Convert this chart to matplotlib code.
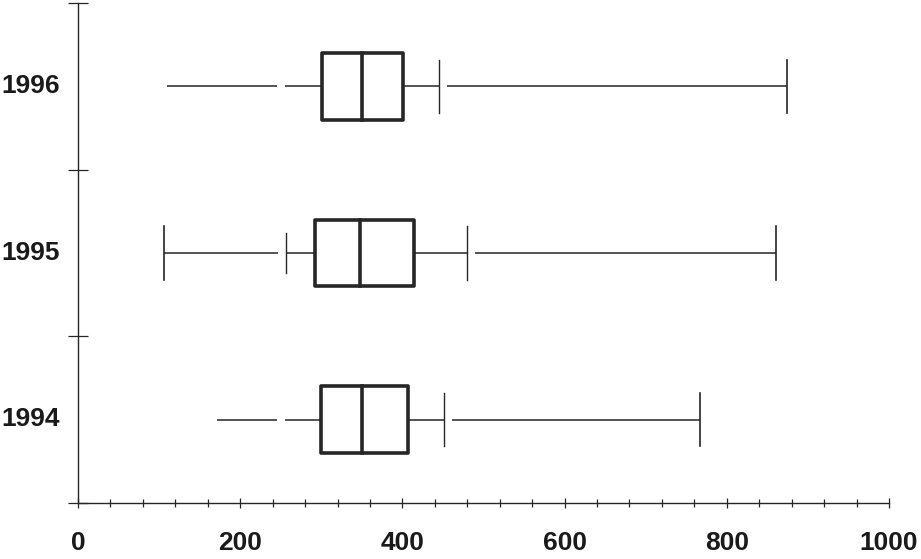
import matplotlib
matplotlib.use("Agg")
import matplotlib.pyplot as plt
from matplotlib.patches import Rectangle
from matplotlib.ticker import MultipleLocator, FixedLocator
from matplotlib.transforms import ScaledTranslation

years = ['1994', '1995', '1996']
mins = [171, 106, 110]
p10 = [255, 256, 255]
q1 = [300, 292, 301]
med = [350, 348, 350]
q3 = [407, 414, 401]
p90 = [451, 480, 445]
maxs = [767, 861, 874]
show_min_cap = [False, True, False]
show_p10_tick = [False, True, False]
x_ticks = [0, 200, 400, 600, 800, 1000]

plt.rcParams['font.family'] = ['Liberation Sans', 'DejaVu Sans']

fig = plt.figure(figsize=(9.21, 5.59), dpi=100)
ax = fig.add_axes([78 / 921, 1 - 503 / 559, 811 / 921, 500 / 559])

ink = '#262626'
box_h = 0.40
cap = 0.16
gap = 10

for i in range(len(years)):
    y = i
    # left whisker: min -> (gap) -> p10 -> q1
    ax.plot([mins[i], p10[i] - gap], [y, y], color=ink, lw=1.1, solid_capstyle='butt')
    ax.plot([p10[i], q1[i]], [y, y], color=ink, lw=1.1, solid_capstyle='butt')
    if show_min_cap[i]:
        ax.plot([mins[i], mins[i]], [y - cap, y + cap], color=ink, lw=1.2)
    if show_p10_tick[i]:
        ax.plot([p10[i], p10[i]], [y - 0.12, y + 0.12], color=ink, lw=1.0)
    # right whisker: q3 -> p90 (tick) -> (gap) -> max (cap)
    ax.plot([q3[i], p90[i]], [y, y], color=ink, lw=1.1, solid_capstyle='butt')
    ax.plot([p90[i], p90[i]], [y - cap, y + cap], color=ink, lw=1.0)
    ax.plot([p90[i] + gap, maxs[i]], [y, y], color=ink, lw=1.1, solid_capstyle='butt')
    ax.plot([maxs[i], maxs[i]], [y - cap, y + cap], color=ink, lw=1.2)
    # box
    ax.add_patch(Rectangle((q1[i], y - box_h / 2), q3[i] - q1[i], box_h,
                           fill=False, edgecolor=ink, lw=2.6, joinstyle='round', zorder=3))
    ax.plot([med[i], med[i]], [y - box_h / 2, y + box_h / 2], color=ink, lw=2.6, zorder=3)

ax.set_xlim(0, 1000)
ax.set_ylim(-0.5, len(years) - 0.5)

ax.spines['top'].set_visible(False)
ax.spines['right'].set_visible(False)
for s in ['left', 'bottom']:
    ax.spines[s].set_color(ink)
    ax.spines[s].set_linewidth(1.0)

ax.xaxis.set_major_locator(FixedLocator(x_ticks))
ax.xaxis.set_minor_locator(MultipleLocator(40))
ax.set_xticklabels([str(t) for t in x_ticks])
ax.tick_params(axis='x', which='major', direction='inout', length=7, width=0.9,
               color=ink, pad=17, labelsize=19, labelcolor='#1a1a1a')
ax.tick_params(axis='x', which='minor', direction='inout', length=6, width=0.9, color=ink)

ax.set_yticks(range(len(years)))
ax.set_yticklabels(years)
ax.yaxis.set_minor_locator(FixedLocator([-0.5, 0.5, 1.5, 2.5]))
ax.tick_params(axis='y', which='major', length=0, pad=13, labelsize=19, labelcolor='#1a1a1a')
ax.tick_params(axis='y', which='minor', direction='inout', length=14, width=0.9, color=ink)

shift_up = ScaledTranslation(0, 3 / 100, fig.dpi_scale_trans)
for lab in ax.get_yticklabels():
    lab.set_transform(lab.get_transform() + shift_up)

for lab in ax.get_xticklabels() + ax.get_yticklabels():
    lab.set_fontweight('bold')

fig.savefig('out.png', dpi=100)
